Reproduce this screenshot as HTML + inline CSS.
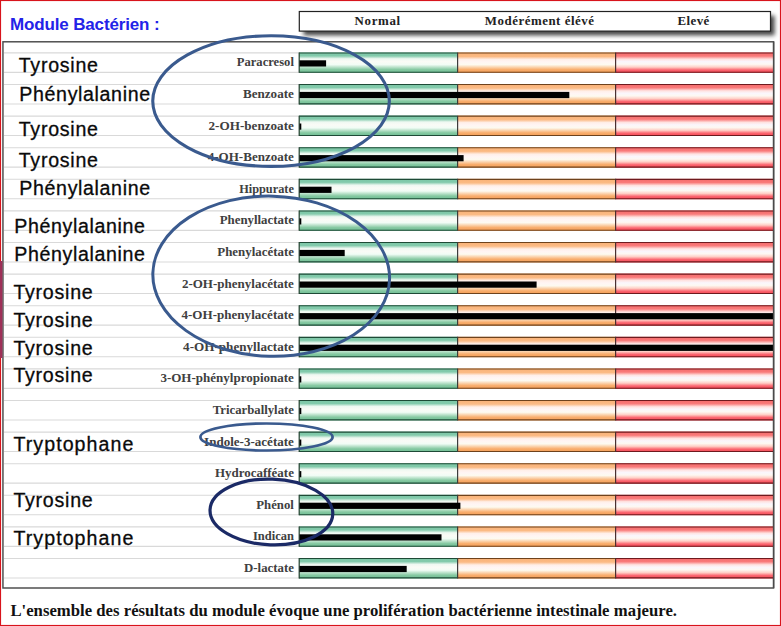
<!DOCTYPE html>
<html><head><meta charset="utf-8"><title>Module Bactérien</title>
<style>
html,body{margin:0;padding:0;background:#fff;}
body{width:781px;height:626px;overflow:hidden;position:relative;font-family:"Liberation Serif",serif;}
svg{position:absolute;left:0;top:0;}
.c{font-family:"Liberation Serif",serif;font-weight:bold;font-size:12.5px;fill:#404040;}
.l{font-family:"Liberation Sans",sans-serif;font-size:19.6px;fill:#0a0a0a;stroke:#0a0a0a;stroke-width:0.3px;}
.h{font-family:"Liberation Serif",serif;font-weight:bold;font-size:12.9px;fill:#222;}
.t{font-family:"Liberation Sans",sans-serif;font-weight:bold;font-size:17px;fill:#2323e8;}
.f{font-family:"Liberation Serif",serif;font-weight:bold;font-size:16.7px;fill:#111;}
</style></head><body>
<svg width="781" height="626" viewBox="0 0 781 626">
<defs>
<linearGradient id="gg" x1="0" y1="0" x2="0" y2="1"><stop offset="0" stop-color="#7cc7a6"/><stop offset="0.17" stop-color="#82caab"/><stop offset="0.31" stop-color="#eef8f1"/><stop offset="0.45" stop-color="#fafbf6"/><stop offset="0.6" stop-color="#f1fcf5"/><stop offset="0.84" stop-color="#86c9a2"/><stop offset="1" stop-color="#6dbc92"/></linearGradient>
<linearGradient id="go" x1="0" y1="0" x2="0" y2="1"><stop offset="0" stop-color="#f9b176"/><stop offset="0.2" stop-color="#fbba84"/><stop offset="0.34" stop-color="#ffefe8"/><stop offset="0.46" stop-color="#fff5f4"/><stop offset="0.6" stop-color="#fdfaf0"/><stop offset="0.84" stop-color="#f9ae6e"/><stop offset="1" stop-color="#f29c54"/></linearGradient>
<linearGradient id="gr" x1="0" y1="0" x2="0" y2="1"><stop offset="0" stop-color="#f46a6a"/><stop offset="0.18" stop-color="#f97a7a"/><stop offset="0.33" stop-color="#ffe2e0"/><stop offset="0.45" stop-color="#faf6fc"/><stop offset="0.58" stop-color="#fdf8f2"/><stop offset="0.72" stop-color="#ffcfc6"/><stop offset="0.86" stop-color="#fb6670"/><stop offset="1" stop-color="#f24652"/></linearGradient>
<filter id="sh" x="-5%" y="-30%" width="110%" height="190%"><feGaussianBlur stdDeviation="2.3"/></filter>
</defs>
<rect x="0" y="0" width="781" height="626" fill="#fff"/>

<rect x="2.95" y="41.8" width="770.65" height="546.2" fill="#fff" stroke="#4a4a4a" stroke-width="1.45"/>
<line x1="4" y1="52.90" x2="299" y2="52.90" stroke="#d9d9d9" stroke-width="1.1"/>
<line x1="4" y1="72.35" x2="299" y2="72.35" stroke="#d9d9d9" stroke-width="1.1"/>
<line x1="4" y1="84.50" x2="299" y2="84.50" stroke="#d9d9d9" stroke-width="1.1"/>
<line x1="4" y1="103.95" x2="299" y2="103.95" stroke="#d9d9d9" stroke-width="1.1"/>
<line x1="4" y1="116.10" x2="299" y2="116.10" stroke="#d9d9d9" stroke-width="1.1"/>
<line x1="4" y1="135.55" x2="299" y2="135.55" stroke="#d9d9d9" stroke-width="1.1"/>
<line x1="4" y1="147.70" x2="299" y2="147.70" stroke="#d9d9d9" stroke-width="1.1"/>
<line x1="4" y1="167.15" x2="299" y2="167.15" stroke="#d9d9d9" stroke-width="1.1"/>
<line x1="4" y1="179.30" x2="299" y2="179.30" stroke="#d9d9d9" stroke-width="1.1"/>
<line x1="4" y1="198.75" x2="299" y2="198.75" stroke="#d9d9d9" stroke-width="1.1"/>
<line x1="4" y1="210.90" x2="299" y2="210.90" stroke="#d9d9d9" stroke-width="1.1"/>
<line x1="4" y1="230.35" x2="299" y2="230.35" stroke="#d9d9d9" stroke-width="1.1"/>
<line x1="4" y1="242.50" x2="299" y2="242.50" stroke="#d9d9d9" stroke-width="1.1"/>
<line x1="4" y1="261.95" x2="299" y2="261.95" stroke="#d9d9d9" stroke-width="1.1"/>
<line x1="4" y1="274.10" x2="299" y2="274.10" stroke="#d9d9d9" stroke-width="1.1"/>
<line x1="4" y1="293.55" x2="299" y2="293.55" stroke="#d9d9d9" stroke-width="1.1"/>
<line x1="4" y1="305.70" x2="299" y2="305.70" stroke="#d9d9d9" stroke-width="1.1"/>
<line x1="4" y1="325.15" x2="299" y2="325.15" stroke="#d9d9d9" stroke-width="1.1"/>
<line x1="4" y1="337.30" x2="299" y2="337.30" stroke="#d9d9d9" stroke-width="1.1"/>
<line x1="4" y1="356.75" x2="299" y2="356.75" stroke="#d9d9d9" stroke-width="1.1"/>
<line x1="4" y1="368.90" x2="299" y2="368.90" stroke="#d9d9d9" stroke-width="1.1"/>
<line x1="4" y1="388.35" x2="299" y2="388.35" stroke="#d9d9d9" stroke-width="1.1"/>
<line x1="4" y1="400.50" x2="299" y2="400.50" stroke="#d9d9d9" stroke-width="1.1"/>
<line x1="4" y1="419.95" x2="299" y2="419.95" stroke="#d9d9d9" stroke-width="1.1"/>
<line x1="4" y1="432.10" x2="299" y2="432.10" stroke="#d9d9d9" stroke-width="1.1"/>
<line x1="4" y1="451.55" x2="299" y2="451.55" stroke="#d9d9d9" stroke-width="1.1"/>
<line x1="4" y1="463.70" x2="299" y2="463.70" stroke="#d9d9d9" stroke-width="1.1"/>
<line x1="4" y1="483.15" x2="299" y2="483.15" stroke="#d9d9d9" stroke-width="1.1"/>
<line x1="4" y1="495.30" x2="299" y2="495.30" stroke="#d9d9d9" stroke-width="1.1"/>
<line x1="4" y1="514.75" x2="299" y2="514.75" stroke="#d9d9d9" stroke-width="1.1"/>
<line x1="4" y1="526.90" x2="299" y2="526.90" stroke="#d9d9d9" stroke-width="1.1"/>
<line x1="4" y1="546.35" x2="299" y2="546.35" stroke="#d9d9d9" stroke-width="1.1"/>
<line x1="4" y1="558.50" x2="299" y2="558.50" stroke="#d9d9d9" stroke-width="1.1"/>
<line x1="4" y1="577.95" x2="299" y2="577.95" stroke="#d9d9d9" stroke-width="1.1"/>
<g>
<rect x="299.2" y="52.45" width="158.40" height="20.35" fill="url(#gg)"/>
<rect x="457.6" y="52.45" width="158.00" height="20.35" fill="url(#go)"/>
<rect x="615.6" y="52.45" width="157.80" height="20.35" fill="url(#gr)"/>
<line x1="299.2" y1="52.95" x2="457.6" y2="52.95" stroke="#1e4a36" stroke-width="1.1"/>
<line x1="299.2" y1="72.30" x2="457.6" y2="72.30" stroke="#1e4a36" stroke-width="1.1"/>
<line x1="457.6" y1="52.95" x2="615.6" y2="52.95" stroke="#6e421c" stroke-width="1.1"/>
<line x1="457.6" y1="72.30" x2="615.6" y2="72.30" stroke="#6e421c" stroke-width="1.1"/>
<line x1="615.6" y1="52.95" x2="773.4" y2="52.95" stroke="#6e1a1e" stroke-width="1.1"/>
<line x1="615.6" y1="72.30" x2="773.4" y2="72.30" stroke="#6e1a1e" stroke-width="1.1"/>
<line x1="299.2" y1="52.45" x2="299.2" y2="72.80" stroke="#22402f" stroke-width="1.2"/>
<line x1="457.6" y1="52.45" x2="457.6" y2="72.80" stroke="#3c3c3c" stroke-width="1.2"/>
<line x1="615.6" y1="52.45" x2="615.6" y2="72.80" stroke="#4a3030" stroke-width="1.2"/>
<rect x="299.5" y="60.30" width="26.60" height="6.2" fill="#000"/>
<text class="c" x="236.8" y="66" textLength="57.1" lengthAdjust="spacingAndGlyphs">Paracresol</text>
</g>
<g>
<rect x="299.2" y="84.05" width="158.40" height="20.35" fill="url(#gg)"/>
<rect x="457.6" y="84.05" width="158.00" height="20.35" fill="url(#go)"/>
<rect x="615.6" y="84.05" width="157.80" height="20.35" fill="url(#gr)"/>
<line x1="299.2" y1="84.55" x2="457.6" y2="84.55" stroke="#1e4a36" stroke-width="1.1"/>
<line x1="299.2" y1="103.90" x2="457.6" y2="103.90" stroke="#1e4a36" stroke-width="1.1"/>
<line x1="457.6" y1="84.55" x2="615.6" y2="84.55" stroke="#6e421c" stroke-width="1.1"/>
<line x1="457.6" y1="103.90" x2="615.6" y2="103.90" stroke="#6e421c" stroke-width="1.1"/>
<line x1="615.6" y1="84.55" x2="773.4" y2="84.55" stroke="#6e1a1e" stroke-width="1.1"/>
<line x1="615.6" y1="103.90" x2="773.4" y2="103.90" stroke="#6e1a1e" stroke-width="1.1"/>
<line x1="299.2" y1="84.05" x2="299.2" y2="104.40" stroke="#22402f" stroke-width="1.2"/>
<line x1="457.6" y1="84.05" x2="457.6" y2="104.40" stroke="#3c3c3c" stroke-width="1.2"/>
<line x1="615.6" y1="84.05" x2="615.6" y2="104.40" stroke="#4a3030" stroke-width="1.2"/>
<rect x="299.5" y="91.90" width="269.80" height="6.2" fill="#000"/>
<text class="c" x="242.9" y="98" textLength="51.0" lengthAdjust="spacingAndGlyphs">Benzoate</text>
</g>
<g>
<rect x="299.2" y="115.65" width="158.40" height="20.35" fill="url(#gg)"/>
<rect x="457.6" y="115.65" width="158.00" height="20.35" fill="url(#go)"/>
<rect x="615.6" y="115.65" width="157.80" height="20.35" fill="url(#gr)"/>
<line x1="299.2" y1="116.15" x2="457.6" y2="116.15" stroke="#1e4a36" stroke-width="1.1"/>
<line x1="299.2" y1="135.50" x2="457.6" y2="135.50" stroke="#1e4a36" stroke-width="1.1"/>
<line x1="457.6" y1="116.15" x2="615.6" y2="116.15" stroke="#6e421c" stroke-width="1.1"/>
<line x1="457.6" y1="135.50" x2="615.6" y2="135.50" stroke="#6e421c" stroke-width="1.1"/>
<line x1="615.6" y1="116.15" x2="773.4" y2="116.15" stroke="#6e1a1e" stroke-width="1.1"/>
<line x1="615.6" y1="135.50" x2="773.4" y2="135.50" stroke="#6e1a1e" stroke-width="1.1"/>
<line x1="299.2" y1="115.65" x2="299.2" y2="136.00" stroke="#22402f" stroke-width="1.2"/>
<line x1="457.6" y1="115.65" x2="457.6" y2="136.00" stroke="#3c3c3c" stroke-width="1.2"/>
<line x1="615.6" y1="115.65" x2="615.6" y2="136.00" stroke="#4a3030" stroke-width="1.2"/>
<rect x="299.5" y="123.50" width="1.80" height="6.2" fill="#000"/>
<text class="c" x="208.5" y="130" textLength="85.4" lengthAdjust="spacingAndGlyphs">2-OH-benzoate</text>
</g>
<g>
<rect x="299.2" y="147.25" width="158.40" height="20.35" fill="url(#gg)"/>
<rect x="457.6" y="147.25" width="158.00" height="20.35" fill="url(#go)"/>
<rect x="615.6" y="147.25" width="157.80" height="20.35" fill="url(#gr)"/>
<line x1="299.2" y1="147.75" x2="457.6" y2="147.75" stroke="#1e4a36" stroke-width="1.1"/>
<line x1="299.2" y1="167.10" x2="457.6" y2="167.10" stroke="#1e4a36" stroke-width="1.1"/>
<line x1="457.6" y1="147.75" x2="615.6" y2="147.75" stroke="#6e421c" stroke-width="1.1"/>
<line x1="457.6" y1="167.10" x2="615.6" y2="167.10" stroke="#6e421c" stroke-width="1.1"/>
<line x1="615.6" y1="147.75" x2="773.4" y2="147.75" stroke="#6e1a1e" stroke-width="1.1"/>
<line x1="615.6" y1="167.10" x2="773.4" y2="167.10" stroke="#6e1a1e" stroke-width="1.1"/>
<line x1="299.2" y1="147.25" x2="299.2" y2="167.60" stroke="#22402f" stroke-width="1.2"/>
<line x1="457.6" y1="147.25" x2="457.6" y2="167.60" stroke="#3c3c3c" stroke-width="1.2"/>
<line x1="615.6" y1="147.25" x2="615.6" y2="167.60" stroke="#4a3030" stroke-width="1.2"/>
<rect x="299.5" y="155.10" width="164.10" height="6.2" fill="#000"/>
<text class="c" x="207.7" y="161" textLength="86.2" lengthAdjust="spacingAndGlyphs">4-OH-Benzoate</text>
</g>
<g>
<rect x="299.2" y="178.85" width="158.40" height="20.35" fill="url(#gg)"/>
<rect x="457.6" y="178.85" width="158.00" height="20.35" fill="url(#go)"/>
<rect x="615.6" y="178.85" width="157.80" height="20.35" fill="url(#gr)"/>
<line x1="299.2" y1="179.35" x2="457.6" y2="179.35" stroke="#1e4a36" stroke-width="1.1"/>
<line x1="299.2" y1="198.70" x2="457.6" y2="198.70" stroke="#1e4a36" stroke-width="1.1"/>
<line x1="457.6" y1="179.35" x2="615.6" y2="179.35" stroke="#6e421c" stroke-width="1.1"/>
<line x1="457.6" y1="198.70" x2="615.6" y2="198.70" stroke="#6e421c" stroke-width="1.1"/>
<line x1="615.6" y1="179.35" x2="773.4" y2="179.35" stroke="#6e1a1e" stroke-width="1.1"/>
<line x1="615.6" y1="198.70" x2="773.4" y2="198.70" stroke="#6e1a1e" stroke-width="1.1"/>
<line x1="299.2" y1="178.85" x2="299.2" y2="199.20" stroke="#22402f" stroke-width="1.2"/>
<line x1="457.6" y1="178.85" x2="457.6" y2="199.20" stroke="#3c3c3c" stroke-width="1.2"/>
<line x1="615.6" y1="178.85" x2="615.6" y2="199.20" stroke="#4a3030" stroke-width="1.2"/>
<rect x="299.5" y="186.70" width="32.00" height="6.2" fill="#000"/>
<text class="c" x="239.2" y="193" textLength="54.7" lengthAdjust="spacingAndGlyphs">Hippurate</text>
</g>
<g>
<rect x="299.2" y="210.45" width="158.40" height="20.35" fill="url(#gg)"/>
<rect x="457.6" y="210.45" width="158.00" height="20.35" fill="url(#go)"/>
<rect x="615.6" y="210.45" width="157.80" height="20.35" fill="url(#gr)"/>
<line x1="299.2" y1="210.95" x2="457.6" y2="210.95" stroke="#1e4a36" stroke-width="1.1"/>
<line x1="299.2" y1="230.30" x2="457.6" y2="230.30" stroke="#1e4a36" stroke-width="1.1"/>
<line x1="457.6" y1="210.95" x2="615.6" y2="210.95" stroke="#6e421c" stroke-width="1.1"/>
<line x1="457.6" y1="230.30" x2="615.6" y2="230.30" stroke="#6e421c" stroke-width="1.1"/>
<line x1="615.6" y1="210.95" x2="773.4" y2="210.95" stroke="#6e1a1e" stroke-width="1.1"/>
<line x1="615.6" y1="230.30" x2="773.4" y2="230.30" stroke="#6e1a1e" stroke-width="1.1"/>
<line x1="299.2" y1="210.45" x2="299.2" y2="230.80" stroke="#22402f" stroke-width="1.2"/>
<line x1="457.6" y1="210.45" x2="457.6" y2="230.80" stroke="#3c3c3c" stroke-width="1.2"/>
<line x1="615.6" y1="210.45" x2="615.6" y2="230.80" stroke="#4a3030" stroke-width="1.2"/>
<rect x="299.5" y="218.30" width="1.80" height="6.2" fill="#000"/>
<text class="c" x="219.7" y="224" textLength="74.2" lengthAdjust="spacingAndGlyphs">Phenyllactate</text>
</g>
<g>
<rect x="299.2" y="242.05" width="158.40" height="20.35" fill="url(#gg)"/>
<rect x="457.6" y="242.05" width="158.00" height="20.35" fill="url(#go)"/>
<rect x="615.6" y="242.05" width="157.80" height="20.35" fill="url(#gr)"/>
<line x1="299.2" y1="242.55" x2="457.6" y2="242.55" stroke="#1e4a36" stroke-width="1.1"/>
<line x1="299.2" y1="261.90" x2="457.6" y2="261.90" stroke="#1e4a36" stroke-width="1.1"/>
<line x1="457.6" y1="242.55" x2="615.6" y2="242.55" stroke="#6e421c" stroke-width="1.1"/>
<line x1="457.6" y1="261.90" x2="615.6" y2="261.90" stroke="#6e421c" stroke-width="1.1"/>
<line x1="615.6" y1="242.55" x2="773.4" y2="242.55" stroke="#6e1a1e" stroke-width="1.1"/>
<line x1="615.6" y1="261.90" x2="773.4" y2="261.90" stroke="#6e1a1e" stroke-width="1.1"/>
<line x1="299.2" y1="242.05" x2="299.2" y2="262.40" stroke="#22402f" stroke-width="1.2"/>
<line x1="457.6" y1="242.05" x2="457.6" y2="262.40" stroke="#3c3c3c" stroke-width="1.2"/>
<line x1="615.6" y1="242.05" x2="615.6" y2="262.40" stroke="#4a3030" stroke-width="1.2"/>
<rect x="299.5" y="249.90" width="45.20" height="6.2" fill="#000"/>
<text class="c" x="217.3" y="256" textLength="76.6" lengthAdjust="spacingAndGlyphs">Phenylacétate</text>
</g>
<g>
<rect x="299.2" y="273.65" width="158.40" height="20.35" fill="url(#gg)"/>
<rect x="457.6" y="273.65" width="158.00" height="20.35" fill="url(#go)"/>
<rect x="615.6" y="273.65" width="157.80" height="20.35" fill="url(#gr)"/>
<line x1="299.2" y1="274.15" x2="457.6" y2="274.15" stroke="#1e4a36" stroke-width="1.1"/>
<line x1="299.2" y1="293.50" x2="457.6" y2="293.50" stroke="#1e4a36" stroke-width="1.1"/>
<line x1="457.6" y1="274.15" x2="615.6" y2="274.15" stroke="#6e421c" stroke-width="1.1"/>
<line x1="457.6" y1="293.50" x2="615.6" y2="293.50" stroke="#6e421c" stroke-width="1.1"/>
<line x1="615.6" y1="274.15" x2="773.4" y2="274.15" stroke="#6e1a1e" stroke-width="1.1"/>
<line x1="615.6" y1="293.50" x2="773.4" y2="293.50" stroke="#6e1a1e" stroke-width="1.1"/>
<line x1="299.2" y1="273.65" x2="299.2" y2="294.00" stroke="#22402f" stroke-width="1.2"/>
<line x1="457.6" y1="273.65" x2="457.6" y2="294.00" stroke="#3c3c3c" stroke-width="1.2"/>
<line x1="615.6" y1="273.65" x2="615.6" y2="294.00" stroke="#4a3030" stroke-width="1.2"/>
<rect x="299.5" y="281.50" width="237.10" height="6.2" fill="#000"/>
<text class="c" x="181.9" y="288" textLength="112.0" lengthAdjust="spacingAndGlyphs">2-OH-phenylacétate</text>
</g>
<g>
<rect x="299.2" y="305.25" width="158.40" height="20.35" fill="url(#gg)"/>
<rect x="457.6" y="305.25" width="158.00" height="20.35" fill="url(#go)"/>
<rect x="615.6" y="305.25" width="157.80" height="20.35" fill="url(#gr)"/>
<line x1="299.2" y1="305.75" x2="457.6" y2="305.75" stroke="#1e4a36" stroke-width="1.1"/>
<line x1="299.2" y1="325.10" x2="457.6" y2="325.10" stroke="#1e4a36" stroke-width="1.1"/>
<line x1="457.6" y1="305.75" x2="615.6" y2="305.75" stroke="#6e421c" stroke-width="1.1"/>
<line x1="457.6" y1="325.10" x2="615.6" y2="325.10" stroke="#6e421c" stroke-width="1.1"/>
<line x1="615.6" y1="305.75" x2="773.4" y2="305.75" stroke="#6e1a1e" stroke-width="1.1"/>
<line x1="615.6" y1="325.10" x2="773.4" y2="325.10" stroke="#6e1a1e" stroke-width="1.1"/>
<line x1="299.2" y1="305.25" x2="299.2" y2="325.60" stroke="#22402f" stroke-width="1.2"/>
<line x1="457.6" y1="305.25" x2="457.6" y2="325.60" stroke="#3c3c3c" stroke-width="1.2"/>
<line x1="615.6" y1="305.25" x2="615.6" y2="325.60" stroke="#4a3030" stroke-width="1.2"/>
<rect x="299.5" y="313.10" width="473.50" height="6.2" fill="#000"/>
<text class="c" x="181.5" y="319" textLength="112.4" lengthAdjust="spacingAndGlyphs">4-OH-phenylacétate</text>
</g>
<g>
<rect x="299.2" y="336.85" width="158.40" height="20.35" fill="url(#gg)"/>
<rect x="457.6" y="336.85" width="158.00" height="20.35" fill="url(#go)"/>
<rect x="615.6" y="336.85" width="157.80" height="20.35" fill="url(#gr)"/>
<line x1="299.2" y1="337.35" x2="457.6" y2="337.35" stroke="#1e4a36" stroke-width="1.1"/>
<line x1="299.2" y1="356.70" x2="457.6" y2="356.70" stroke="#1e4a36" stroke-width="1.1"/>
<line x1="457.6" y1="337.35" x2="615.6" y2="337.35" stroke="#6e421c" stroke-width="1.1"/>
<line x1="457.6" y1="356.70" x2="615.6" y2="356.70" stroke="#6e421c" stroke-width="1.1"/>
<line x1="615.6" y1="337.35" x2="773.4" y2="337.35" stroke="#6e1a1e" stroke-width="1.1"/>
<line x1="615.6" y1="356.70" x2="773.4" y2="356.70" stroke="#6e1a1e" stroke-width="1.1"/>
<line x1="299.2" y1="336.85" x2="299.2" y2="357.20" stroke="#22402f" stroke-width="1.2"/>
<line x1="457.6" y1="336.85" x2="457.6" y2="357.20" stroke="#3c3c3c" stroke-width="1.2"/>
<line x1="615.6" y1="336.85" x2="615.6" y2="357.20" stroke="#4a3030" stroke-width="1.2"/>
<rect x="299.5" y="344.70" width="473.50" height="6.2" fill="#000"/>
<text class="c" x="183.1" y="351" textLength="110.8" lengthAdjust="spacingAndGlyphs">4-OH-phenyllactate</text>
</g>
<g>
<rect x="299.2" y="368.45" width="158.40" height="20.35" fill="url(#gg)"/>
<rect x="457.6" y="368.45" width="158.00" height="20.35" fill="url(#go)"/>
<rect x="615.6" y="368.45" width="157.80" height="20.35" fill="url(#gr)"/>
<line x1="299.2" y1="368.95" x2="457.6" y2="368.95" stroke="#1e4a36" stroke-width="1.1"/>
<line x1="299.2" y1="388.30" x2="457.6" y2="388.30" stroke="#1e4a36" stroke-width="1.1"/>
<line x1="457.6" y1="368.95" x2="615.6" y2="368.95" stroke="#6e421c" stroke-width="1.1"/>
<line x1="457.6" y1="388.30" x2="615.6" y2="388.30" stroke="#6e421c" stroke-width="1.1"/>
<line x1="615.6" y1="368.95" x2="773.4" y2="368.95" stroke="#6e1a1e" stroke-width="1.1"/>
<line x1="615.6" y1="388.30" x2="773.4" y2="388.30" stroke="#6e1a1e" stroke-width="1.1"/>
<line x1="299.2" y1="368.45" x2="299.2" y2="388.80" stroke="#22402f" stroke-width="1.2"/>
<line x1="457.6" y1="368.45" x2="457.6" y2="388.80" stroke="#3c3c3c" stroke-width="1.2"/>
<line x1="615.6" y1="368.45" x2="615.6" y2="388.80" stroke="#4a3030" stroke-width="1.2"/>
<rect x="299.5" y="376.30" width="1.80" height="6.2" fill="#000"/>
<text class="c" x="160.4" y="382" textLength="133.5" lengthAdjust="spacingAndGlyphs">3-OH-phénylpropionate</text>
</g>
<g>
<rect x="299.2" y="400.05" width="158.40" height="20.35" fill="url(#gg)"/>
<rect x="457.6" y="400.05" width="158.00" height="20.35" fill="url(#go)"/>
<rect x="615.6" y="400.05" width="157.80" height="20.35" fill="url(#gr)"/>
<line x1="299.2" y1="400.55" x2="457.6" y2="400.55" stroke="#1e4a36" stroke-width="1.1"/>
<line x1="299.2" y1="419.90" x2="457.6" y2="419.90" stroke="#1e4a36" stroke-width="1.1"/>
<line x1="457.6" y1="400.55" x2="615.6" y2="400.55" stroke="#6e421c" stroke-width="1.1"/>
<line x1="457.6" y1="419.90" x2="615.6" y2="419.90" stroke="#6e421c" stroke-width="1.1"/>
<line x1="615.6" y1="400.55" x2="773.4" y2="400.55" stroke="#6e1a1e" stroke-width="1.1"/>
<line x1="615.6" y1="419.90" x2="773.4" y2="419.90" stroke="#6e1a1e" stroke-width="1.1"/>
<line x1="299.2" y1="400.05" x2="299.2" y2="420.40" stroke="#22402f" stroke-width="1.2"/>
<line x1="457.6" y1="400.05" x2="457.6" y2="420.40" stroke="#3c3c3c" stroke-width="1.2"/>
<line x1="615.6" y1="400.05" x2="615.6" y2="420.40" stroke="#4a3030" stroke-width="1.2"/>
<rect x="299.5" y="407.90" width="1.80" height="6.2" fill="#000"/>
<text class="c" x="212.8" y="414" textLength="81.1" lengthAdjust="spacingAndGlyphs">Tricarballylate</text>
</g>
<g>
<rect x="299.2" y="431.65" width="158.40" height="20.35" fill="url(#gg)"/>
<rect x="457.6" y="431.65" width="158.00" height="20.35" fill="url(#go)"/>
<rect x="615.6" y="431.65" width="157.80" height="20.35" fill="url(#gr)"/>
<line x1="299.2" y1="432.15" x2="457.6" y2="432.15" stroke="#1e4a36" stroke-width="1.1"/>
<line x1="299.2" y1="451.50" x2="457.6" y2="451.50" stroke="#1e4a36" stroke-width="1.1"/>
<line x1="457.6" y1="432.15" x2="615.6" y2="432.15" stroke="#6e421c" stroke-width="1.1"/>
<line x1="457.6" y1="451.50" x2="615.6" y2="451.50" stroke="#6e421c" stroke-width="1.1"/>
<line x1="615.6" y1="432.15" x2="773.4" y2="432.15" stroke="#6e1a1e" stroke-width="1.1"/>
<line x1="615.6" y1="451.50" x2="773.4" y2="451.50" stroke="#6e1a1e" stroke-width="1.1"/>
<line x1="299.2" y1="431.65" x2="299.2" y2="452.00" stroke="#22402f" stroke-width="1.2"/>
<line x1="457.6" y1="431.65" x2="457.6" y2="452.00" stroke="#3c3c3c" stroke-width="1.2"/>
<line x1="615.6" y1="431.65" x2="615.6" y2="452.00" stroke="#4a3030" stroke-width="1.2"/>
<rect x="299.5" y="439.50" width="1.80" height="6.2" fill="#000"/>
<text class="c" x="204.1" y="446" textLength="89.8" lengthAdjust="spacingAndGlyphs">Indole-3-acétate</text>
</g>
<g>
<rect x="299.2" y="463.25" width="158.40" height="20.35" fill="url(#gg)"/>
<rect x="457.6" y="463.25" width="158.00" height="20.35" fill="url(#go)"/>
<rect x="615.6" y="463.25" width="157.80" height="20.35" fill="url(#gr)"/>
<line x1="299.2" y1="463.75" x2="457.6" y2="463.75" stroke="#1e4a36" stroke-width="1.1"/>
<line x1="299.2" y1="483.10" x2="457.6" y2="483.10" stroke="#1e4a36" stroke-width="1.1"/>
<line x1="457.6" y1="463.75" x2="615.6" y2="463.75" stroke="#6e421c" stroke-width="1.1"/>
<line x1="457.6" y1="483.10" x2="615.6" y2="483.10" stroke="#6e421c" stroke-width="1.1"/>
<line x1="615.6" y1="463.75" x2="773.4" y2="463.75" stroke="#6e1a1e" stroke-width="1.1"/>
<line x1="615.6" y1="483.10" x2="773.4" y2="483.10" stroke="#6e1a1e" stroke-width="1.1"/>
<line x1="299.2" y1="463.25" x2="299.2" y2="483.60" stroke="#22402f" stroke-width="1.2"/>
<line x1="457.6" y1="463.25" x2="457.6" y2="483.60" stroke="#3c3c3c" stroke-width="1.2"/>
<line x1="615.6" y1="463.25" x2="615.6" y2="483.60" stroke="#4a3030" stroke-width="1.2"/>
<rect x="299.5" y="471.10" width="1.80" height="6.2" fill="#000"/>
<text class="c" x="215.0" y="477" textLength="78.9" lengthAdjust="spacingAndGlyphs">Hydrocafféate</text>
</g>
<g>
<rect x="299.2" y="494.85" width="158.40" height="20.35" fill="url(#gg)"/>
<rect x="457.6" y="494.85" width="158.00" height="20.35" fill="url(#go)"/>
<rect x="615.6" y="494.85" width="157.80" height="20.35" fill="url(#gr)"/>
<line x1="299.2" y1="495.35" x2="457.6" y2="495.35" stroke="#1e4a36" stroke-width="1.1"/>
<line x1="299.2" y1="514.70" x2="457.6" y2="514.70" stroke="#1e4a36" stroke-width="1.1"/>
<line x1="457.6" y1="495.35" x2="615.6" y2="495.35" stroke="#6e421c" stroke-width="1.1"/>
<line x1="457.6" y1="514.70" x2="615.6" y2="514.70" stroke="#6e421c" stroke-width="1.1"/>
<line x1="615.6" y1="495.35" x2="773.4" y2="495.35" stroke="#6e1a1e" stroke-width="1.1"/>
<line x1="615.6" y1="514.70" x2="773.4" y2="514.70" stroke="#6e1a1e" stroke-width="1.1"/>
<line x1="299.2" y1="494.85" x2="299.2" y2="515.20" stroke="#22402f" stroke-width="1.2"/>
<line x1="457.6" y1="494.85" x2="457.6" y2="515.20" stroke="#3c3c3c" stroke-width="1.2"/>
<line x1="615.6" y1="494.85" x2="615.6" y2="515.20" stroke="#4a3030" stroke-width="1.2"/>
<rect x="299.5" y="502.70" width="160.90" height="6.2" fill="#000"/>
<text class="c" x="256.3" y="509" textLength="37.6" lengthAdjust="spacingAndGlyphs">Phénol</text>
</g>
<g>
<rect x="299.2" y="526.45" width="158.40" height="20.35" fill="url(#gg)"/>
<rect x="457.6" y="526.45" width="158.00" height="20.35" fill="url(#go)"/>
<rect x="615.6" y="526.45" width="157.80" height="20.35" fill="url(#gr)"/>
<line x1="299.2" y1="526.95" x2="457.6" y2="526.95" stroke="#1e4a36" stroke-width="1.1"/>
<line x1="299.2" y1="546.30" x2="457.6" y2="546.30" stroke="#1e4a36" stroke-width="1.1"/>
<line x1="457.6" y1="526.95" x2="615.6" y2="526.95" stroke="#6e421c" stroke-width="1.1"/>
<line x1="457.6" y1="546.30" x2="615.6" y2="546.30" stroke="#6e421c" stroke-width="1.1"/>
<line x1="615.6" y1="526.95" x2="773.4" y2="526.95" stroke="#6e1a1e" stroke-width="1.1"/>
<line x1="615.6" y1="546.30" x2="773.4" y2="546.30" stroke="#6e1a1e" stroke-width="1.1"/>
<line x1="299.2" y1="526.45" x2="299.2" y2="546.80" stroke="#22402f" stroke-width="1.2"/>
<line x1="457.6" y1="526.45" x2="457.6" y2="546.80" stroke="#3c3c3c" stroke-width="1.2"/>
<line x1="615.6" y1="526.45" x2="615.6" y2="546.80" stroke="#4a3030" stroke-width="1.2"/>
<rect x="299.5" y="534.30" width="142.00" height="6.2" fill="#000"/>
<text class="c" x="253.0" y="540" textLength="40.9" lengthAdjust="spacingAndGlyphs">Indican</text>
</g>
<g>
<rect x="299.2" y="558.05" width="158.40" height="20.35" fill="url(#gg)"/>
<rect x="457.6" y="558.05" width="158.00" height="20.35" fill="url(#go)"/>
<rect x="615.6" y="558.05" width="157.80" height="20.35" fill="url(#gr)"/>
<line x1="299.2" y1="558.55" x2="457.6" y2="558.55" stroke="#1e4a36" stroke-width="1.1"/>
<line x1="299.2" y1="577.90" x2="457.6" y2="577.90" stroke="#1e4a36" stroke-width="1.1"/>
<line x1="457.6" y1="558.55" x2="615.6" y2="558.55" stroke="#6e421c" stroke-width="1.1"/>
<line x1="457.6" y1="577.90" x2="615.6" y2="577.90" stroke="#6e421c" stroke-width="1.1"/>
<line x1="615.6" y1="558.55" x2="773.4" y2="558.55" stroke="#6e1a1e" stroke-width="1.1"/>
<line x1="615.6" y1="577.90" x2="773.4" y2="577.90" stroke="#6e1a1e" stroke-width="1.1"/>
<line x1="299.2" y1="558.05" x2="299.2" y2="578.40" stroke="#22402f" stroke-width="1.2"/>
<line x1="457.6" y1="558.05" x2="457.6" y2="578.40" stroke="#3c3c3c" stroke-width="1.2"/>
<line x1="615.6" y1="558.05" x2="615.6" y2="578.40" stroke="#4a3030" stroke-width="1.2"/>
<rect x="299.5" y="565.90" width="107.20" height="6.2" fill="#000"/>
<text class="c" x="244.1" y="572" textLength="49.8" lengthAdjust="spacingAndGlyphs">D-lactate</text>
</g>
<line x1="773.6" y1="41.8" x2="773.6" y2="588" stroke="#4a4a4a" stroke-width="1.45"/>
<text class="l" x="18.7" y="71.6" textLength="79.3">Tyrosine</text>
<text class="l" x="19.3" y="100.7" textLength="130.8">Phénylalanine</text>
<text class="l" x="18.7" y="136.2" textLength="79.3">Tyrosine</text>
<text class="l" x="18.7" y="166.8" textLength="79.3">Tyrosine</text>
<text class="l" x="19.3" y="194.6" textLength="130.8">Phénylalanine</text>
<text class="l" x="14.2" y="232.8" textLength="130.8">Phénylalanine</text>
<text class="l" x="14.2" y="260.8" textLength="130.8">Phénylalanine</text>
<text class="l" x="13.4" y="298.8" textLength="79.3">Tyrosine</text>
<text class="l" x="13.4" y="327.1" textLength="79.3">Tyrosine</text>
<text class="l" x="13.4" y="354.8" textLength="79.3">Tyrosine</text>
<text class="l" x="13.4" y="382.4" textLength="79.3">Tyrosine</text>
<text class="l" x="13.4" y="450.7" textLength="120.0">Tryptophane</text>
<text class="l" x="13.4" y="506.8" textLength="79.3">Tyrosine</text>
<text class="l" x="13.4" y="544.9" textLength="120.0">Tryptophane</text>
<rect x="303.6" y="15.6" width="471" height="19.8" fill="#000" opacity="0.72" filter="url(#sh)"/>
<rect x="299.3" y="11.5" width="471.2" height="19.6" fill="#fff" stroke="#222" stroke-width="1.2"/>
<text class="h" x="354.6" y="25" textLength="45.6">Normal</text>
<text class="h" x="484.8" y="25" textLength="109.2">Modérément élévé</text>
<text class="h" x="677.5" y="25" textLength="31.8">Elevé</text>
<text class="t" x="10" y="29.6" textLength="149.6">Module Bactérien :</text>
<ellipse cx="271.05" cy="101.1" rx="118.3" ry="65.3" fill="none" stroke="#3a5a8e" stroke-width="3.1"/>
<ellipse cx="271.2" cy="276.2" rx="118.4" ry="80.1" fill="none" stroke="#3a5a8e" stroke-width="3" transform="rotate(1.5 271.2 276.2)"/>
<ellipse cx="266.5" cy="437" rx="66.1" ry="13.5" fill="none" stroke="#3a5a8e" stroke-width="2.7"/>
<ellipse cx="271.4" cy="512" rx="61.4" ry="32.9" fill="none" stroke="#1b2a66" stroke-width="3.2" transform="rotate(2 271.4 512)"/>
<text class="f" x="10.4" y="615.5" textLength="666.6">L'ensemble des résultats du module évoque une prolifération bactérienne intestinale majeure.</text>
<rect x="0.5" y="0.5" width="780" height="625" fill="none" stroke="#d8141c" stroke-width="1.15"/>
<rect x="0" y="261" width="2.4" height="97" fill="#9e3058"/>
</svg></body></html>
